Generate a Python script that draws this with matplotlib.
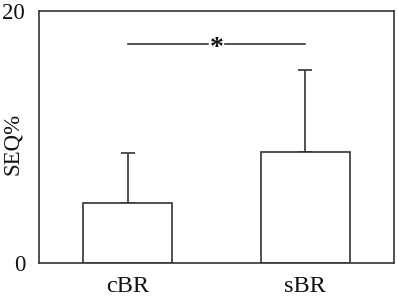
import matplotlib
matplotlib.use("Agg")
import matplotlib.pyplot as plt

categories = ["cBR", "sBR"]
means = [4.8, 8.8]
errors = [3.9, 6.5]
yticks = [0, 20]
sig_label = "*"
sig_y = 17.4

plt.rcParams['font.family'] = ['Liberation Serif', 'DejaVu Serif']
fig = plt.figure(figsize=(3.97, 3.0), dpi=100)
ax = fig.add_axes([39/397, 1-263/300, 355/397, 252/300])
col = '#333333'
x = list(range(len(categories)))
ax.bar(x, means, width=0.5, color='white', edgecolor=col, linewidth=1.2, zorder=2)
ax.errorbar(x, means, yerr=[[0]*len(errors), errors], fmt='none', ecolor=col,
            elinewidth=1.2, capsize=4.7, capthick=1.2, zorder=1)
ax.set_xlim(-0.5, 1.5)
ax.set_ylim(0, 20)
ax.set_yticks(yticks)
ax.set_xticks(x)
ax.set_xticklabels(categories, fontsize=17.5)
ax.tick_params(length=0, colors='#111111')
ax.tick_params(axis='y', labelsize=16.5, pad=10)
ax.tick_params(axis='x', pad=9)
ax.set_ylabel("SEQ%", fontsize=16.5, color='#111111')
ax.yaxis.set_label_coords(-0.046, 0.472)
for s in ax.spines.values():
    s.set_color(col)
    s.set_linewidth(1.2)
# significance line
ax.plot([0, 0.45], [sig_y, sig_y], color=col, lw=1.2)
ax.plot([0.55, 1.0], [sig_y, sig_y], color=col, lw=1.2)
ax.text(0.5, sig_y - 0.35, sig_label, ha='center', va='center', fontsize=20,
        color='#111111', fontweight='bold')
fig.savefig("out.png", dpi=100)
